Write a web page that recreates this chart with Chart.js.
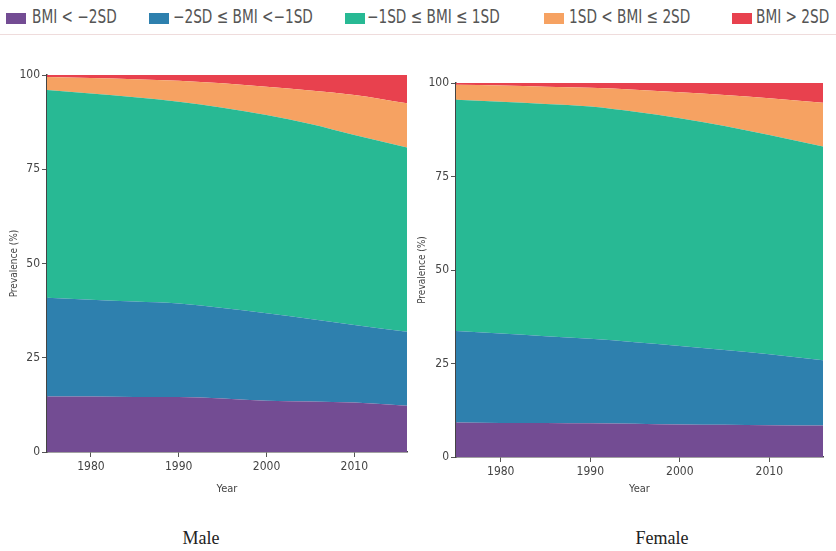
<!DOCTYPE html>
<html>
<head>
<meta charset="utf-8">
<script src="https://cdn.jsdelivr.net/npm/chart.js@4.4.0/dist/chart.umd.min.js"></script>
<style>
  body { margin: 0; background: #fff; width: 836px; height: 551px; position: relative; overflow: hidden; }
  .legend { position: absolute; top: 0; left: 0; width: 836px; height: 30px; font-family: "Liberation Sans Narrow", "DejaVu Sans Condensed", sans-serif; font-size: 19px; color: #555; }
  .legend i { position: absolute; top: 13px; width: 20px; height: 11px; }
  .legend span { position: absolute; top: 5px; white-space: nowrap; transform-origin: 0 0; transform: scaleX(0.8); }
  .rule { position: absolute; top: 34px; left: 0; width: 836px; height: 1px; background: #efdcdc; }
  .wrap { position: absolute; top: 60px; height: 440px; }
  .caption { position: absolute; top: 528px; font-family: "Liberation Serif", serif; font-size: 18px; color: #222; transform: translateX(-50%); }
</style>
</head>
<body>
<div class="legend" id="legend"></div>
<div class="rule"></div>
<div class="wrap" style="left:0;width:420px"><canvas id="male"></canvas></div>
<div class="wrap" style="left:410px;width:426px"><canvas id="female"></canvas></div>
<div class="caption" style="left:201px">Male</div>
<div class="caption" style="left:662px">Female</div>
<script>
// categories
var years = [1975, 1980, 1985, 1990, 1995, 2000, 2005, 2010, 2016];
var categories = ['BMI < \u22122SD', '\u22122SD \u2264 BMI  <\u22121SD', '\u22121SD \u2264 BMI \u2264 1SD', '1SD < BMI \u2264 2SD', 'BMI > 2SD'];
var colors = ['#734c93', '#2e80ae', '#28b994', '#f6a262', '#e8414e'];
var yTicks = [0, 25, 50, 75, 100];
var xTicks = [1980, 1990, 2000, 2010];

// male prevalence (%)
var maleUnder2 = [14.7, 14.7, 14.6, 14.6, 14.2, 13.6, 13.4, 13.1, 12.3];
var maleMinus2to1 = [26.2, 25.7, 25.3, 24.8, 24.0, 23.2, 21.9, 20.6, 19.6];
var maleNormal = [55.1, 54.7, 54.2, 53.5, 53.1, 52.6, 51.7, 50.4, 48.9];
var malePlus1to2 = [3.5, 4.1, 4.8, 5.6, 6.5, 7.5, 8.9, 10.6, 11.7];
var maleOver2 = [0.5, 0.8, 1.1, 1.5, 2.2, 3.1, 4.1, 5.3, 7.5];

// female prevalence (%)
var femaleUnder2 = [9.2, 9.1, 9.1, 9.0, 8.9, 8.7, 8.6, 8.5, 8.4];
var femaleMinus2to1 = [24.5, 23.9, 23.2, 22.6, 21.8, 21.0, 20.0, 19.0, 17.5];
var femaleNormal = [61.8, 62.0, 62.1, 62.1, 61.6, 60.9, 59.9, 58.6, 57.1];
var femalePlus1to2 = [4.0, 4.3, 4.6, 5.0, 5.9, 6.9, 8.3, 9.8, 11.7];
var femaleOver2 = [0.5, 0.7, 1.0, 1.3, 1.8, 2.5, 3.2, 4.1, 5.3];

// legend (swatch left, text left)
var swatchX = [6, 149, 345, 544, 732];
var textX = [32, 173, 367, 569, 756];
var legend = document.getElementById('legend');
categories.forEach(function(c, i) {
    var sw = document.createElement('i');
    sw.style.left = swatchX[i] + 'px';
    sw.style.background = colors[i];
    legend.appendChild(sw);
    var s = document.createElement('span');
    s.style.left = textX[i] + 'px';
    s.textContent = c;
    legend.appendChild(s);
});

function makeChart(id, series, pad, yWidth, xHeight) {
    var datasets = series.map(function(vals, i) {
        return {
            label: categories[i],
            data: vals.map(function(v, j) { return { x: years[j], y: v }; }),
            backgroundColor: colors[i],
            borderColor: colors[i],
            borderWidth: 0,
            pointRadius: 0,
            fill: i === 0 ? 'origin' : '-1',
            cubicInterpolationMode: 'monotone'
        };
    });
    var tickFont = { family: '"Liberation Sans Narrow", "DejaVu Sans Condensed", sans-serif', size: 12 };
    return new Chart(document.getElementById(id), {
        type: 'line',
        data: { datasets: datasets },
        options: {
            responsive: false,
            animation: false,
            layout: { padding: pad },
            plugins: { legend: { display: false }, tooltip: { enabled: false } },
            scales: {
                x: {
                    type: 'linear',
                    min: 1975,
                    max: 2016,
                    afterBuildTicks: function(axis) { axis.ticks = xTicks.map(function(v) { return { value: v }; }); },
                    afterFit: function(axis) { axis.height = xHeight; },
                    ticks: { color: '#444', font: tickFont, padding: 3, callback: function(v) { return String(v); } },
                    grid: { drawOnChartArea: false, tickLength: 5, color: '#555' },
                    border: { color: '#444', width: 1.5 },
                    title: { display: true, text: 'Year', color: '#444', font: { family: tickFont.family, size: 11 }, padding: { top: 0 } }
                },
                y: {
                    stacked: true,
                    min: 0,
                    max: 100,
                    afterBuildTicks: function(axis) { axis.ticks = yTicks.map(function(v) { return { value: v }; }); },
                    afterFit: function(axis) { axis.width = yWidth; },
                    ticks: { color: '#444', font: tickFont, padding: 2 },
                    grid: { drawOnChartArea: false, tickLength: 5, color: '#555' },
                    border: { color: '#444', width: 1.5 },
                    title: { display: true, text: 'Prevalence (%)', color: '#444', font: { family: tickFont.family, size: 10 }, padding: 0 }
                }
            }
        }
    });
}

var mc = document.getElementById('male');
mc.width = 420; mc.height = 440;
var fc = document.getElementById('female');
fc.width = 426; fc.height = 440;

makeChart('male', [maleUnder2, maleMinus2to1, maleNormal, malePlus1to2, maleOver2],
    { top: 15, right: 13, left: 8, bottom: 0 }, 39, 48);
makeChart('female', [femaleUnder2, femaleMinus2to1, femaleNormal, femalePlus1to2, femaleOver2],
    { top: 23, right: 13, left: 6, bottom: 0 }, 40, 43);
</script>
</body>
</html>
